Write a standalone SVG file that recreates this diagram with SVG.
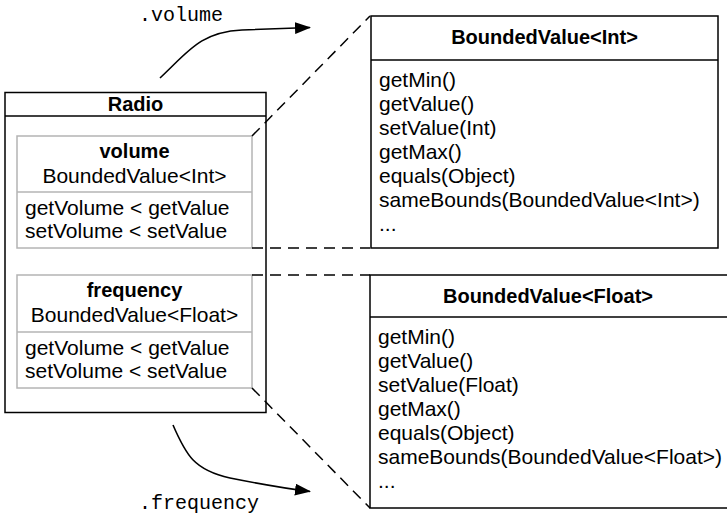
<svg xmlns="http://www.w3.org/2000/svg" width="727" height="515" viewBox="0 0 727 515">
  <style>
    .box { fill: #ffffff; stroke: #000000; stroke-width: 1.5; }
    .sub { fill: #ffffff; stroke: #b4b4b4; stroke-width: 1.5; }
    .rule { stroke: #000000; stroke-width: 1.5; }
    .subrule { stroke: #b4b4b4; stroke-width: 1.5; }
    .dash { fill: none; stroke: #000000; stroke-width: 1.5; stroke-dasharray: 11 7; }
    .curve { fill: none; stroke: #000000; stroke-width: 1.6; }
    text { font-family: "Liberation Sans", Arial, Helvetica, sans-serif; font-size: 21px; fill: #000000; }
    .title { font-size: 20px; font-weight: bold; text-anchor: middle; }
    .mid { text-anchor: middle; }
    .mono { font-family: "Liberation Mono", "Courier New", monospace; font-size: 20px; }
  </style>
  <defs>
    <marker id="arrow" viewBox="0 0 16 12" refX="15" refY="6" markerWidth="16" markerHeight="12" markerUnits="userSpaceOnUse" orient="auto">
      <path d="M0,0 L16,6 L0,12 Z" fill="#000000"/>
    </marker>
  </defs>

  <!-- Radio class with its two delegated properties -->
  <g id="radio">
    <rect class="box" x="5" y="92.5" width="261" height="320"/>
    <line class="rule" x1="5" y1="116" x2="266" y2="116"/>
    <text class="title" x="135.5" y="111">Radio</text>
  </g>

  <g id="volume">
    <rect class="sub" x="17" y="136" width="235" height="112"/>
    <line class="subrule" x1="17" y1="192" x2="252" y2="192"/>
    <text class="title" x="134.5" y="158">volume</text>
    <text class="mid" x="134.5" y="183">BoundedValue&lt;Int&gt;</text>
    <text x="25" y="215">getVolume &lt; getValue</text>
    <text x="25" y="238">setVolume &lt; setValue</text>
  </g>

  <g id="frequency">
    <rect class="sub" x="17" y="275" width="235" height="113"/>
    <line class="subrule" x1="17" y1="332" x2="252" y2="332"/>
    <text class="title" x="134.5" y="297">frequency</text>
    <text class="mid" x="134.5" y="322">BoundedValue&lt;Float&gt;</text>
    <text x="25" y="355">getVolume &lt; getValue</text>
    <text x="25" y="378">setVolume &lt; setValue</text>
  </g>

  <!-- BoundedValue classes -->
  <g id="bounded-int">
    <rect class="box" x="371" y="16" width="347" height="232"/>
    <line class="rule" x1="371" y1="60" x2="718" y2="60"/>
    <text class="title" x="544.5" y="44">BoundedValue&lt;Int&gt;</text>
    <text x="379" y="87">getMin()</text>
    <text x="379" y="111">getValue()</text>
    <text x="379" y="135">setValue(Int)</text>
    <text x="379" y="159">getMax()</text>
    <text x="379" y="183">equals(Object)</text>
    <text x="379" y="207">sameBounds(BoundedValue&lt;Int&gt;)</text>
    <text x="379" y="231">...</text>
  </g>

  <g id="bounded-float">
    <rect class="box" x="370" y="275" width="372" height="233"/>
    <line class="rule" x1="370" y1="317" x2="742" y2="317"/>
    <text class="title" x="548" y="303">BoundedValue&lt;Float&gt;</text>
    <text x="378" y="344">getMin()</text>
    <text x="378" y="368">getValue()</text>
    <text x="378" y="392">setValue(Float)</text>
    <text x="378" y="416">getMax()</text>
    <text x="378" y="440">equals(Object)</text>
    <text x="378" y="464">sameBounds(BoundedValue&lt;Float&gt;)</text>
    <text x="378" y="488">...</text>
  </g>

  <!-- projection lines and property-access arrows -->
  <g id="connectors">
    <line class="dash" x1="252" y1="136" x2="370" y2="16"/>
    <line class="dash" x1="252" y1="248" x2="370" y2="248"/>
    <line class="dash" x1="252" y1="275" x2="370" y2="275"/>
    <line class="dash" x1="252" y1="388" x2="370" y2="508"/>
    <path class="curve" d="M160,78 C188,52 200,32 242,30 L310,27.5" marker-end="url(#arrow)"/>
    <path class="curve" d="M173,425 C186,455 194,470 230,478 C260,484 282,488 310,491.5" marker-end="url(#arrow)"/>
    <text class="mono" x="139" y="21">.volume</text>
    <text class="mono" x="139" y="509">.frequency</text>
  </g>
</svg>
